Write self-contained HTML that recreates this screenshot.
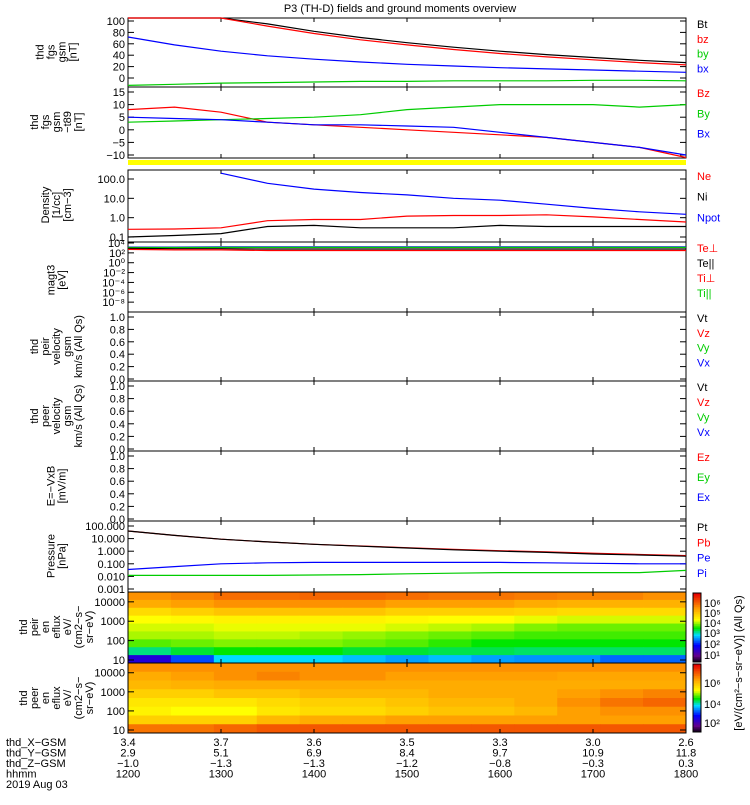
<!DOCTYPE html>
<html><head><meta charset="utf-8"><style>
body{margin:0;background:#fff;width:750px;height:800px;overflow:hidden;font-family:"Liberation Sans",sans-serif}
svg text{font-family:"Liberation Sans",sans-serif;font-size:11px}
</style></head><body>
<svg id="c" width="750" height="800"></svg>
<script>
const hours=[12,12.5,13,13.5,14,14.5,15,15.5,16,16.5,17,17.5,18];
const bt=[160,135,112,95,82,71,62,54,47,41,36,31,27];
const bz=[155,130,108,91,78,67,58,50,43,37,32,27,23];
const bx=[72,58,47,39,33,28,24,21,18,16,14,12,10];
const by=[-13,-11,-9,-8,-7,-6,-6,-5,-5,-5,-4,-4,-5];
const dBz=[8,9,7,3,2,1,0,-1,-2,-3,-5,-7,-11];
const dBy=[3,3.5,4,4.5,5,6,8,9,10,10,10,9,10];
const dBx=[5,4.5,4,3,2,2,1.5,1,-1,-3,-5,-7,-10];
const ne=[0.25,0.26,0.3,0.7,0.8,0.8,1.2,1.3,1.3,1.4,1.1,0.8,0.6];
const ni=[0.1,0.12,0.15,0.35,0.4,0.3,0.3,0.3,0.4,0.35,0.35,0.35,0.35];
const npot=[null,null,200,60,30,20,15,10,8,5,3,2,1.5];
const tePerp=[500,400,400,300,300,300,300,300,300,300,300,300,300];
const teParl=[800,700,700,600,600,600,600,600,600,600,600,600,600];
const tiPerp=[1500,1500,1600,1600,1600,1600,1600,1600,1600,1600,1600,1600,1600];
const tiParl=[1200,1200,1300,1300,1300,1300,1300,1300,1300,1300,1300,1300,1300];
const pt=[40,18,9,5.5,3.5,2.5,1.8,1.3,1.0,0.8,0.6,0.5,0.4];
const pb=[40,18,9,5.5,3.5,2.6,1.9,1.4,1.1,0.9,0.7,0.55,0.45];
const pe=[0.035,0.06,0.1,0.12,0.13,0.13,0.13,0.13,0.13,0.12,0.11,0.1,0.1];
const pi=[0.012,0.012,0.012,0.012,0.013,0.014,0.016,0.018,0.02,0.02,0.02,0.02,0.03];
const ionSpec=[
[.80,.82,.85,.85,.86,.86,.85,.84,.84,.83,.82,.82,.8],
[.76,.78,.80,.80,.80,.80,.78,.78,.78,.76,.75,.75,.75],
[.68,.70,.72,.72,.72,.72,.70,.70,.70,.69,.68,.68,.68],
[.62,.63,.64,.64,.64,.64,.63,.62,.62,.61,.60,.60,.60],
[.60,.60,.61,.61,.61,.61,.60,.59,.58,.56,.55,.55,.55],
[.58,.58,.59,.59,.58,.57,.56,.55,.54,.53,.53,.53,.53],
[.54,.55,.56,.56,.56,.55,.54,.52,.50,.50,.50,.50,.50],
[.45,.48,.50,.50,.50,.48,.48,.47,.47,.46,.46,.46,.46],
[.20,.30,.40,.40,.40,.38,.36,.38,.36,.35,.35,.32,.32]];
const eleSpec=[
[.80,.80,.80,.80,.80,.80,.80,.80,.80,.80,.80,.80,.80],
[.76,.78,.80,.82,.80,.80,.78,.78,.78,.78,.77,.77,.77],
[.74,.75,.76,.76,.76,.76,.76,.76,.76,.76,.76,.76,.76],
[.70,.70,.72,.72,.74,.74,.74,.76,.76,.76,.78,.80,.82],
[.66,.66,.66,.68,.70,.70,.72,.74,.74,.76,.80,.84,.86],
[.64,.62,.62,.66,.68,.68,.70,.72,.72,.74,.78,.80,.80],
[.70,.70,.70,.74,.76,.76,.78,.78,.78,.78,.78,.78,.78],
[.84,.84,.86,.88,.88,.88,.88,.88,.88,.88,.88,.88,.88]];
const xTicks=["1200","1300","1400","1500","1600","1700","1800"];
const xGsm=["3.4","3.7","3.6","3.5","3.3","3.0","2.6"];
const yGsm=["2.9","5.1","6.9","8.4","9.7","10.9","11.8"];
const zGsm=["−1.0","−1.3","−1.3","−1.2","−0.8","−0.3","0.3"];

const NS="http://www.w3.org/2000/svg",svg=document.getElementById('c');
const X0=128,X1=686;
function xs(h){return X0+(h-12)/6*(X1-X0);}
function el(t,a,p){const e=document.createElementNS(NS,t);for(const k in a)e.setAttribute(k,a[k]);(p||svg).appendChild(e);return e;}
function txt(x,y,s,o){o=o||{};const e=el('text',{x:x,y:y,'text-anchor':o.a||'start',fill:o.f||'#000','font-size':o.s||11});if(o.r)e.setAttribute('transform','rotate(-90 '+x+' '+y+')');e.textContent=s;return e;}
function lin(lo,hi,yLo,yHi){return v=>yLo+(v-lo)/(hi-lo)*(yHi-yLo);}
function lg(lo,hi,yLo,yHi){const a=Math.log10(lo),c=Math.log10(hi);return v=>yLo+(Math.log10(v)-a)/(c-a)*(yHi-yLo);}
function series(vals,ys,col,t,b,name){let d='';vals.forEach((v,i)=>{if(v==null)return;let y=Math.max(t,Math.min(b,ys(v)));d+=(d?'L':'M')+xs(hours[i]).toFixed(1)+','+y.toFixed(1);});
const p=el('path',{d:d,fill:'none',stroke:col,'stroke-width':1.2});

}
function frame(t,b,name){const r=el('rect',{x:X0,y:t,width:X1-X0,height:b-t,fill:'none',stroke:'#000'});


for(let i=0;i<=6;i++){const x=xs(12+i);el('line',{x1:x,y1:t,x2:x,y2:t+4,stroke:'#000'});el('line',{x1:x,y1:b,x2:x,y2:b-4,stroke:'#000'});}}
function yt(labels,ys){labels.forEach(v=>{const y=ys(v[0]);el('line',{x1:X0,y1:y,x2:X0+6,y2:y,stroke:'#000'});el('line',{x1:X1,y1:y,x2:X1-6,y2:y,stroke:'#000'});txt(X0-3,y+4,v[1],{a:'end',s:12});});}
function ylab(lines,cy){lines.forEach((s,i)=>txt(60+i*11-(lines.length-1)*5.5,cy,s,{a:'middle',r:1,s:11}));}
function legend(items,t,b){const n=items.length;items.forEach((it,i)=>txt(697,t+10+i*(b-t-10)/n,it[0],{f:it[1],s:11}));}
txt(400,12,"P3 (TH-D) fields and ground moments overview",{a:'middle',s:12});

let t=18,b=87,ys=lin(0,100,78,21);
frame(t,b,'fgs-gsm-panel');yt([[100,'100'],[80,'80'],[60,'60'],[40,'40'],[20,'20'],[0,'0']],ys);
series(bt,ys,'#000',t,b,'bt-line');series(bz,ys,'#f00',t,b,'bz-line');series(by,ys,'#0c0',t,b,'by-line');series(bx,ys,'#00f',t,b,'bx-line');
ylab(["thd","fgs","gsm","[nT]"],52);legend([["Bt","#000"],["bz","#f00"],["by","#0c0"],["bx","#00f"]],t,b);
t=87;b=158;ys=lin(-10,15,155,92);
frame(t,b,'fgs-t89-panel');yt([[15,'15'],[10,'10'],[5,'5'],[0,'0'],[-5,'−5'],[-10,'−10']],ys);
series(dBz,ys,'#f00',t,b,'dbz-line');series(dBy,ys,'#0c0',t,b,'dby-line');series(dBx,ys,'#00f',t,b,'dbx-line');
ylab(["thd","fgs","gsm","−t89","[nT]"],122);legend([["Bz","#f00"],["By","#0c0"],["Bx","#00f"]],t,b);
el('rect',{x:X0,y:160,width:X1-X0,height:5,fill:'#ff0'});
t=170;b=242;ys=lg(0.1,100,237,179);
frame(t,b,'density-panel');yt([[100,'100.0'],[10,'10.0'],[1,'1.0'],[0.1,'0.1']],ys);
series(npot,ys,'#00f',t,b,'npot-line');series(ne,ys,'#f00',t,b,'ne-line');series(ni,ys,'#000',t,b,'ni-line');
ylab(["Density","[1/cc]","[cm−3]"],205);legend([["Ne","#f00"],["Ni","#000"],["Npot","#00f"]],t,b);
t=242;b=312;ys=lg(1e-10,1e4,312,243);
frame(t,b,'temperature-panel');
[[1e4,'10⁴'],[100,'10²'],[1,'10⁰'],[1e-2,'10⁻²'],[1e-4,'10⁻⁴'],[1e-6,'10⁻⁶'],[1e-8,'10⁻⁸']].forEach(v=>{const y=ys(v[0]);el('line',{x1:X0,y1:y,x2:X0+6,y2:y,stroke:'#000'});txt(X0-3,y+4,v[1],{a:'end',s:11});});
series(tiPerp,ys,'#00f',t,b,'ti-perp-line');series(tiParl,ys,'#0c0',t,b,'ti-parl-line');series(teParl,ys,'#000',t,b,'te-parl-line');series(tePerp,ys,'#f00',t,b,'te-perp-line');
ylab(["magt3","[eV]"],280);legend([["Te⊥","#f00"],["Te||","#000"],["Ti⊥","#f00"],["Ti||","#0c0"]],t,b);
[[312,381,'peir-velocity-panel',["thd","peir","velocity","gsm","km/s (All Qs)"]],[381,451,'peer-velocity-panel',["thd","peer","velocity","gsm","km/s (All Qs)"]],[451,521,'efield-panel',["E=−VxB","[mV/m]"]]].forEach((p,k)=>{
 frame(p[0],p[1],p[2]);const s=lin(0,1,p[1]-2,p[0]+5);yt([[1,'1.0'],[.8,'0.8'],[.6,'0.6'],[.4,'0.4'],[.2,'0.2'],[0,'0.0']],s);
 ylab(p[3],(p[0]+p[1])/2);
 legend(k<2?[["Vt","#000"],["Vz","#f00"],["Vy","#0c0"],["Vx","#00f"]]:[["Ez","#f00"],["Ey","#0c0"],["Ex","#00f"]],p[0],p[1]);});
t=521;b=592;ys=lg(0.001,100,589,526);
frame(t,b,'pressure-panel');yt([[100,'100.000'],[10,'10.000'],[1,'1.000'],[0.1,'0.100'],[0.01,'0.010'],[0.001,'0.001']],ys);
series(pb,ys,'#f00',t,b,'pb-line');series(pt,ys,'#000',t,b,'pt-line');series(pe,ys,'#00f',t,b,'pe-line');series(pi,ys,'#0c0',t,b,'pi-line');
ylab(["Pressure","[nPa]"],556);legend([["Pt","#000"],["Pb","#f00"],["Pe","#00f"],["Pi","#00f"]],t,b);
function cmap(v){const st=[[0,[0,0,0]],[.1,[100,0,140]],[.25,[0,0,255]],[.4,[0,220,255]],[.5,[0,230,0]],[.62,[255,255,0]],[.78,[255,160,0]],[1,[230,0,0]]];
for(let i=1;i<st.length;i++)if(v<=st[i][0]){const a=st[i-1],c=st[i],f=(v-a[0])/(c[0]-a[0]);return 'rgb('+a[1].map((q,j)=>Math.round(q+(c[1][j]-q)*f)).join(',')+')';}return 'rgb(230,0,0)';}
function spec(m,t,b,name,ticks){const g=el('g',{});
const nr=m.length,nc=hours.length;const dx=(X1-X0)/nc,dy=(b-t)/nr;
m.forEach((row,r)=>row.forEach((v,c)=>el('rect',{x:X0+c*dx,y:t+r*dy,width:dx+.5,height:dy+.5,fill:cmap(v)},g)));
frame(t,b,name+'-frame');yt(ticks,lg(10,20000,b-3,t+4));}
spec(ionSpec,592,663,'ion-spectrogram',[[10000,'10000'],[1000,'1000'],[100,'100'],[10,'10']]);
ylab(["thd","peir","en","eflux","eV/","(cm2−s−","sr−eV)"],627);
spec(eleSpec,663,733,'electron-spectrogram',[[10000,'10000'],[1000,'1000'],[100,'100'],[10,'10']]);
ylab(["thd","peer","en","eflux","eV/","(cm2−s−","sr−eV)"],698);
[[593,662],[664,732]].forEach((p,k)=>{for(let i=0;i<40;i++){el('rect',{x:693,y:p[0]+i*(p[1]-p[0])/40,width:8,height:(p[1]-p[0])/40+.5,fill:cmap(1-i/40)});}
el('rect',{x:693,y:p[0],width:8,height:p[1]-p[0],fill:'none',stroke:'#000'});});
[["10⁶",607],["10⁵",617],["10⁴",627],["10³",637],["10²",648],["10¹",659]].forEach(v=>txt(704,v[1],v[0],{s:10}));
[["10⁶",687],["10⁴",708],["10²",727]].forEach(v=>txt(704,v[1],v[0],{s:10}));
txt(742,663,"[eV/(cm²−s−sr−eV)] (All Qs)",{a:'middle',r:1,s:11});
["thd_X−GSM","thd_Y−GSM","thd_Z−GSM","hhmm","2019 Aug 03"].forEach((s,i)=>txt(6,746+i*10.5,s,{s:11}));
for(let i=0;i<7;i++){const x=xs(12+i);txt(x,746,xGsm[i],{a:'middle'});txt(x,756.5,yGsm[i],{a:'middle'});txt(x,767,zGsm[i],{a:'middle'});txt(x,777.5,xTicks[i],{a:'middle'});}
</script></body></html>
